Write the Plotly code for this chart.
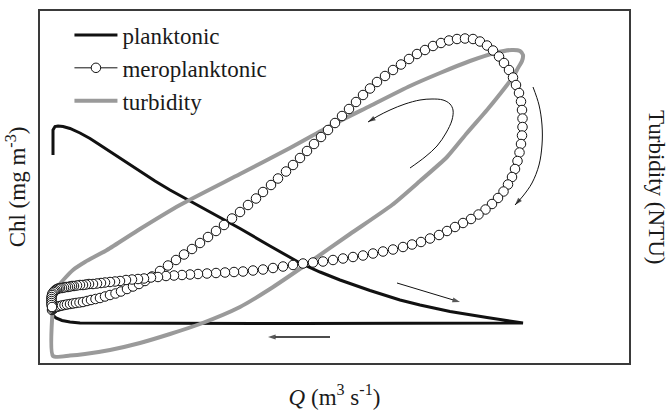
import plotly.graph_objects as go

# ---- series (Q in m3 s-1, Chl in mg m-3, turbidity in NTU; schematic units) ----
planktonic_q = [1.3, 1.3, 1.3, 1.5, 1.8, 2.3, 3.0, 4.0, 5.0, 6.0, 7.0, 8.0, 9.0, 10.0,
                11.5, 13.0, 15.0, 17.0, 20.0, 23.0, 26.0, 28.0, 30.0, 33.0, 36.0, 38.0,
                41.0, 44.7, 47.0, 48.3, 26.0, 6.0, 4.0, 3.0, 2.2, 1.6, 1.2, 1.0]
planktonic_chl = [20.8, 22.3, 23.3, 23.65, 23.7, 23.65, 23.45, 23.0, 22.45, 21.8, 21.15,
                  20.5, 19.85, 19.15, 18.2, 17.3, 16.2, 15.1, 13.45, 11.7, 10.0, 9.1,
                  8.3, 7.25, 6.3, 5.8, 5.15, 4.55, 4.15, 4.0, 3.95, 3.95, 4.0, 4.1, 4.25,
                  4.5, 4.9, 5.3]

meroplanktonic_q = [
    1.2, 1.3, 1.4, 1.5, 1.65, 1.8, 2.0, 2.2, 2.45, 2.7, 3.0, 3.3, 3.6, 3.95, 4.3, 4.7,
    5.1, 5.55, 6.0, 6.5, 7.0, 7.55, 8.1, 8.7, 9.3, 9.9, 10.5,
    11.2, 12.0, 12.8, 13.6, 14.4, 15.2, 16.0, 16.8, 17.6, 18.4, 19.2, 20.0, 20.8, 21.6,
    22.3, 23.1, 23.8, 24.6, 25.3, 26.0, 26.7, 27.4, 28.1, 28.8, 29.5, 30.2, 30.9, 31.6,
    32.3, 33.0, 33.7, 34.5, 35.3, 36.1, 36.9, 37.7, 38.5, 39.3, 40.1, 40.9, 41.7, 42.5,
    43.3, 44.0, 44.7, 45.3, 45.9, 46.4, 46.9, 47.3, 47.6, 47.9, 48.1, 48.2, 48.25, 48.25,
    48.2, 48.1, 47.95, 47.75, 47.5, 47.2, 46.8, 46.35, 45.8, 45.2, 44.55, 43.85, 43.1,
    42.3, 41.5, 40.7, 39.9, 39.0, 38.1, 37.2, 36.3, 35.3, 34.3, 33.3, 32.3, 31.3, 30.3,
    29.3, 28.3, 27.3, 26.3, 25.3, 24.3, 23.3, 22.3, 21.3, 20.3, 19.4, 18.5, 17.6, 16.7,
    15.8, 15.0, 14.2, 13.4, 12.6, 11.8, 11.1, 10.4, 9.8, 9.2, 8.6, 8.0, 7.5, 7.0, 6.5,
    6.1, 5.7, 5.3, 4.9, 4.6, 4.3, 4.0, 3.7, 3.4, 3.2, 3.0, 2.8, 2.6, 2.4, 2.2, 2.0, 1.85,
    1.7, 1.55, 1.45, 1.35, 1.25, 1.2, 1.15, 1.15, 1.15, 1.15, 1.15, 1.2]
meroplanktonic_chl = [
    5.3, 5.4, 5.5, 5.55, 5.6, 5.65, 5.7, 5.75, 5.8, 5.85, 5.9, 5.95, 6.0, 6.05, 6.1, 6.2,
    6.3, 6.4, 6.5, 6.65, 6.8, 6.95, 7.15, 7.4, 7.65, 7.9, 8.2,
    8.65, 9.2, 9.75, 10.3, 10.85, 11.4, 12.0, 12.6, 13.2, 13.8, 14.45, 15.1, 15.8, 16.45,
    17.1, 17.8, 18.45, 19.15, 19.8, 20.5, 21.2, 21.9, 22.6, 23.3, 24.0, 24.7, 25.4, 26.1,
    26.8, 27.45, 28.1, 28.7, 29.3, 29.85, 30.4, 30.9, 31.3, 31.7, 32.0, 32.25, 32.4, 32.45,
    32.4, 32.15, 31.75, 31.25, 30.65, 30.0, 29.3, 28.55, 27.8, 27.0, 26.15, 25.3, 24.45,
    23.6, 22.75, 21.9, 21.05, 20.2, 19.4, 18.6, 17.85, 17.15, 16.5, 15.9, 15.35, 14.85,
    14.4, 14.0, 13.6, 13.2, 12.8, 12.45, 12.1, 11.85, 11.6, 11.35, 11.15, 10.95, 10.75,
    10.6, 10.45, 10.3, 10.15, 10.05, 9.95, 9.8, 9.65, 9.5, 9.35, 9.25, 9.15, 9.1, 9.05,
    9.0, 8.95, 8.9, 8.85, 8.8, 8.75, 8.7, 8.6, 8.55, 8.45, 8.4, 8.35, 8.3, 8.2, 8.15, 8.1,
    8.05, 8.0, 7.95, 7.9, 7.9, 7.85, 7.8, 7.8, 7.75, 7.7, 7.7, 7.65, 7.6, 7.6, 7.55, 7.5,
    7.5, 7.45, 7.4, 7.3, 7.2, 7.1, 6.95, 6.8, 6.6, 6.4, 6.2, 6.0, 5.8, 5.6]

turbidity_q = [1.3, 3.0, 4.5, 7.0, 10.0, 13.0, 16.0, 20.0, 23.0, 26.7, 31.0, 35.2, 38.0,
               40.7, 42.7, 44.7, 46.0, 47.3, 47.8, 48.2, 48.3, 48.0, 47.2, 45.5, 43.0,
               40.0, 37.0, 33.0, 29.0, 25.0, 20.0, 14.0, 10.0, 6.7, 4.5, 3.3, 2.6, 2.0,
               1.7, 1.4, 1.3, 1.3]
turbidity_ntu = [0.7, 0.75, 0.9, 1.3, 2.0, 2.9, 3.9, 5.6, 7.4, 9.9, 12.9, 15.8, 18.2,
                 20.6, 23.0, 25.3, 26.9, 28.6, 29.5, 30.2, 30.8, 31.2, 31.3, 31.0, 30.2,
                 29.0, 27.7, 25.7, 23.7, 21.5, 18.9, 15.8, 13.4, 11.3, 10.1, 9.3, 8.6,
                 7.9, 7.3, 6.6, 5.8, 0.7]

# ---- direction-of-travel arrows (paths in the same Q / Chl units) ----
right_arc = ([49.3, 49.9, 50.2, 50.2, 49.9, 49.2, 48.3, 47.5],
             [27.6, 25.8, 23.8, 21.8, 19.8, 18.0, 16.7, 15.8])
inner_arc = ([37.0, 38.5, 39.7, 40.6, 41.2, 41.3, 41.0, 40.3, 39.2, 38.0, 36.5, 35.0, 33.8, 32.8],
             [19.5, 20.6, 21.7, 23.0, 24.3, 25.3, 25.9, 26.3, 26.4, 26.3, 25.9, 25.3, 24.7, 24.1])
rising_arrow = ([35.7, 42.0], [8.0, 6.1])
falling_arrow = ([29.0, 22.8], [2.6, 2.6])

SERIF = "Liberation Serif, Times New Roman, serif"
INK = "#1a1a1a"

fig = go.Figure()

fig.add_trace(go.Scatter(
    x=planktonic_q, y=planktonic_chl, name="planktonic", mode="lines",
    line=dict(color="#111111", width=3), legendrank=1))

fig.add_trace(go.Scatter(
    x=turbidity_q, y=turbidity_ntu, name="turbidity", mode="lines",
    line=dict(color="#9a9a9a", width=4, shape="spline", smoothing=0.6), legendrank=3))

fig.add_trace(go.Scatter(
    x=meroplanktonic_q, y=meroplanktonic_chl, name="meroplanktonic", mode="lines+markers",
    line=dict(color="#111111", width=1),
    marker=dict(symbol="circle", size=9.5, color="white", line=dict(color="#111111", width=1)),
    legendrank=2))

# thin arrows: a line with an arrowhead marker on its last point, oriented along the path
for (ax_, ay_), lw, shape in ((right_arc, 1, "spline"), (inner_arc, 1, "spline"),
                              (rising_arrow, 1, "linear"), (falling_arrow, 1.5, "linear")):
    n = len(ax_)
    fig.add_trace(go.Scatter(
        x=ax_, y=ay_, mode="lines+markers", showlegend=False, hoverinfo="skip",
        line=dict(color="#111111", width=lw, shape=shape),
        marker=dict(symbol="arrow", angleref="previous", color="#111111",
                    size=[0] * (n - 1) + [8], line=dict(width=0))))

fig.add_annotation(text="Turbidity (NTU)", xref="paper", yref="paper", x=1, y=0.5,
                   xanchor="center", yanchor="middle", xshift=28, textangle=90,
                   showarrow=False, font=dict(family=SERIF, size=23, color=INK))

axis_common = dict(showgrid=False, zeroline=False, showticklabels=False, ticks="",
                   showline=True, mirror=True, linecolor="#3a3a3a", linewidth=1.5,
                   automargin=False)

fig.update_xaxes(range=[0, 58.9], title=dict(text="<i>Q</i> (m<sup>3</sup> s<sup>-1</sup>)",
                 font=dict(family=SERIF, size=23, color=INK), standoff=34), **axis_common)
fig.update_yaxes(range=[0, 35.2], title=dict(text="Chl (mg m<sup>-3</sup>)",
                 font=dict(family=SERIF, size=23, color=INK), standoff=6), **axis_common)

fig.update_layout(
    width=668, height=410,
    margin=dict(l=40, r=39, t=11, b=47),
    paper_bgcolor="white", plot_bgcolor="white",
    font=dict(family=SERIF, size=23, color=INK),
    legend=dict(x=0.05, y=0.993, xanchor="left", yanchor="top", itemwidth=43,
                bgcolor="rgba(0,0,0,0)", font=dict(family=SERIF, size=23, color=INK)),
    showlegend=True,
)

fig.write_html("out.html")
